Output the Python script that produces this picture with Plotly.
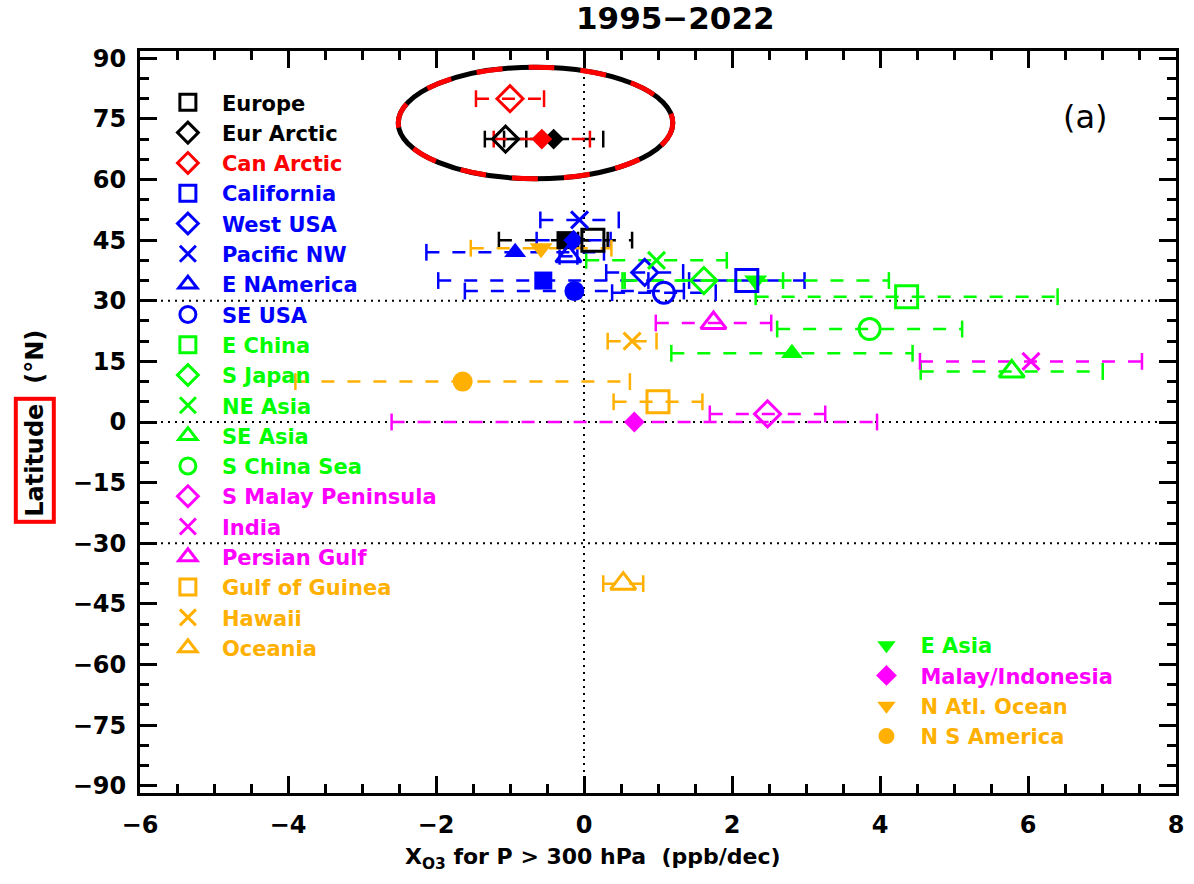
import plotly.graph_objects as go

# ---------------- data ----------------
# Open symbols (main legend, top-left)
open_names = ["Europe", "Eur Arctic", "Can Arctic", "California", "West USA",
              "Pacific NW", "E NAmerica", "SE USA", "E China", "S Japan",
              "NE Asia", "SE Asia", "S China Sea", "S Malay Peninsula", "India",
              "Persian Gulf", "Gulf of Guinea", "Hawaii", "Oceania"]
open_x = [0.12, -1.06, -1.00, 2.20, 0.82, -0.06, -0.21, 1.08, 4.36, 1.62,
          0.98, 5.78, 3.86, 2.48, 6.04, 1.75, 1.00, 0.65, 0.53]
open_y = [45, 70, 80, 35, 37, 50, 41, 32, 31, 35,
          40, 12.5, 23, 2, 15, 24.5, 5, 20, -40]
open_err = [0.20, 0.28, 0.46, 0.78, 0.52, 0.53, 0.12, 0.70, 2.04, 1.07,
            0.95, 1.23, 1.25, 0.78, 1.50, 0.78, 0.60, 0.33, 0.27]

# Filled symbols without legend entry
extra_names = ["Europe", "Eur Arctic", "Can Arctic", "California", "West USA",
               "E NAmerica", "SE USA", "SE Asia"]
extra_x = [-0.25, -0.41, -0.57, -0.55, -0.14, -0.93, -0.13, 2.81]
extra_y = [45, 70, 70, 35, 45, 42, 32.4, 17]
extra_err = [0.90, 0.67, 0.65, 1.42, 0.50, 1.20, 1.48, 1.63]

# Filled symbols (second legend, bottom-right)
fill_names = ["E Asia", "Malay/Indonesia", "N Atl. Ocean", "N S America"]
fill_x = [2.32, 0.68, -0.58, -1.64]
fill_y = [35, 0, 43, 10]
fill_err = [1.80, 3.28, 0.95, 2.26]

# Tick values / labels
x_ticks = [-6, -4, -2, 0, 2, 4, 6, 8]
y_ticks = [-90, -75, -60, -45, -30, -15, 0, 15, 30, 45, 60, 75, 90]
ref_lines_y = [30, 0, -30]
ref_lines_x = [0]

# Highlight ellipse bounds (data units)
ell_x = [-2.51, 1.20]
ell_y = [60.2, 87.8]

# ---------------- styles ----------------
BLACK, RED, BLUE, GREEN, MAGENTA, ORANGE = "#000000", "#ff0000", "#0000ff", "#00ff00", "#ff00ff", "#ffb000"
open_colors = [BLACK, BLACK, RED, BLUE, BLUE, BLUE, BLUE, BLUE, GREEN, GREEN,
               GREEN, GREEN, GREEN, MAGENTA, MAGENTA, MAGENTA, ORANGE, ORANGE, ORANGE]
open_symbols = ["square-open", "diamond-open", "diamond-open", "square-open", "diamond-open",
                "x-thin-open", "triangle-up-open", "circle-open", "square-open", "diamond-open",
                "x-thin-open", "triangle-up-open", "circle-open", "diamond-open", "x-thin-open",
                "triangle-up-open", "square-open", "x-thin-open", "triangle-up-open"]
extra_colors = [BLACK, BLACK, RED, BLUE, BLUE, BLUE, BLUE, GREEN]
extra_symbols = ["square", "diamond", "diamond", "square", "diamond",
                 "triangle-up", "circle", "triangle-up"]
fill_colors = [GREEN, MAGENTA, ORANGE, ORANGE]
fill_symbols = ["triangle-down", "diamond", "triangle-down", "circle"]

size_open = {"square-open": 22, "diamond-open": 20, "x-thin-open": 17,
             "triangle-up-open": 22, "circle-open": 21}
size_fill = {"square": 18, "diamond": 16, "circle": 20, "triangle-up": 19, "triangle-down": 20}

FONT = "DejaVu Sans"
ERR_DASH = "13px,13px"

fig = go.Figure()


def add_errbar(x, y, e, color):
    fig.add_trace(go.Scatter(
        x=[x - e, x + e], y=[y, y], mode="lines+markers",
        line=dict(color=color, width=2.5, dash=ERR_DASH),
        marker=dict(symbol="line-ns-open", size=12, line=dict(color=color, width=2.5)),
        showlegend=False, hoverinfo="skip"))


for x, y, e, c in zip(open_x, open_y, open_err, open_colors):
    add_errbar(x, y, e, c)
for x, y, e, c in zip(extra_x, extra_y, extra_err, extra_colors):
    add_errbar(x, y, e, c)
for x, y, e, c in zip(fill_x, fill_y, fill_err, fill_colors):
    add_errbar(x, y, e, c)

for n, x, y, c, s in zip(extra_names, extra_x, extra_y, extra_colors, extra_symbols):
    fig.add_trace(go.Scatter(x=[x], y=[y], mode="markers", name=n, showlegend=False,
                             marker=dict(symbol=s, size=size_fill[s], color=c, line=dict(width=0))))

for n, x, y, c, s in zip(fill_names, fill_x, fill_y, fill_colors, fill_symbols):
    fig.add_trace(go.Scatter(x=[x], y=[y], mode="markers",
                             name=f'<span style="color:{c}">{n}</span>', legend="legend2",
                             marker=dict(symbol=s, size=size_fill[s], color=c, line=dict(width=0))))

for n, x, y, c, s in zip(open_names, open_x, open_y, open_colors, open_symbols):
    fig.add_trace(go.Scatter(x=[x], y=[y], mode="markers",
                             name=f'<span style="color:{c}">{n}</span>', legend="legend",
                             marker=dict(symbol=s, size=size_open[s], color=c,
                                         line=dict(color=c, width=3))))

shapes = []
for yv in ref_lines_y:
    shapes.append(dict(type="line", xref="paper", yref="y", x0=0, x1=1, y0=yv, y1=yv,
                       line=dict(color="black", width=2, dash="2px,5px"), layer="below"))
for xv in ref_lines_x:
    shapes.append(dict(type="line", xref="x", yref="paper", x0=xv, x1=xv, y0=0, y1=1,
                       line=dict(color="black", width=2, dash="2px,5px"), layer="below"))
shapes.append(dict(type="circle", xref="x", yref="y", x0=ell_x[0], x1=ell_x[1],
                   y0=ell_y[0], y1=ell_y[1], line=dict(color="black", width=5)))
shapes.append(dict(type="circle", xref="x", yref="y", x0=ell_x[0], x1=ell_x[1],
                   y0=ell_y[0], y1=ell_y[1], line=dict(color="red", width=5, dash="26px,26px")))

axis_common = dict(showline=True, linewidth=3, linecolor="black", mirror="allticks",
                   ticks="inside", ticklen=17, tickwidth=3, tickcolor="black",
                   showgrid=False, zeroline=False,
                   tickfont=dict(family=FONT, size=24, color="black", weight="bold"))

fig.update_layout(
    width=1194, height=884,
    margin=dict(l=140, r=10, t=51, b=91),
    plot_bgcolor="white", paper_bgcolor="white",
    font=dict(family=FONT, color="black"),
    xaxis=dict(range=[-6, 8], tickvals=x_ticks, ticklabelstandoff=8,
               minor=dict(ticks="inside", ticklen=9, tickwidth=2.5, dtick=0.5, tickcolor="black"),
               **axis_common),
    yaxis=dict(range=[-91.8, 91.8], tickvals=y_ticks, ticklabelstandoff=6,
               minor=dict(ticks="inside", ticklen=9, tickwidth=2.5, dtick=5, tickcolor="black"),
               **axis_common),
    shapes=shapes,
    legend=dict(x=0.0134, y=0.958, xanchor="left", yanchor="top", bgcolor="rgba(0,0,0,0)",
                itemwidth=58, font=dict(family=FONT, size=21, color="black", weight="bold"),
                tracegroupgap=0),
    legend2=dict(x=0.6877, y=0.2264, xanchor="left", yanchor="top", bgcolor="rgba(0,0,0,0)",
                 itemwidth=58, font=dict(family=FONT, size=21, color="black", weight="bold"),
                 tracegroupgap=0),
    annotations=[
        dict(text="1995\u22122022", xref="paper", yref="paper", x=0.517, y=1.0445,
             xanchor="center", yanchor="middle", showarrow=False,
             font=dict(family=FONT, size=31, color="black", weight="bold")),
        dict(text="(a)", xref="paper", yref="paper", x=(1093 - 140) / 1044, y=1 - (117 - 51) / 742,
             xanchor="center", yanchor="middle", showarrow=False,
             font=dict(family=FONT, size=32, color="black")),
        dict(text="X<sub>O3</sub> for P > 300 hPa \u00a0(ppb/dec)", xref="paper", yref="paper",
             x=(597 - 140) / 1044, y=1 - (858 - 51) / 742, xanchor="center", yanchor="middle",
             showarrow=False, font=dict(family=FONT, size=22, color="black", weight="bold")),
        dict(text="Latitude", xref="paper", yref="paper", textangle=-90,
             x=(34 - 140) / 1044, y=1 - (460 - 51) / 742, xanchor="center", yanchor="middle",
             showarrow=False, bordercolor="red", borderwidth=4, borderpad=3,
             font=dict(family=FONT, size=24, color="black", weight="bold")),
        dict(text="(°N)", xref="paper", yref="paper", textangle=-90,
             x=(34 - 140) / 1044, y=1 - (357 - 51) / 742, xanchor="center", yanchor="middle",
             showarrow=False, font=dict(family=FONT, size=24, color="black", weight="bold")),
    ],
)

fig.write_html("out.html")
